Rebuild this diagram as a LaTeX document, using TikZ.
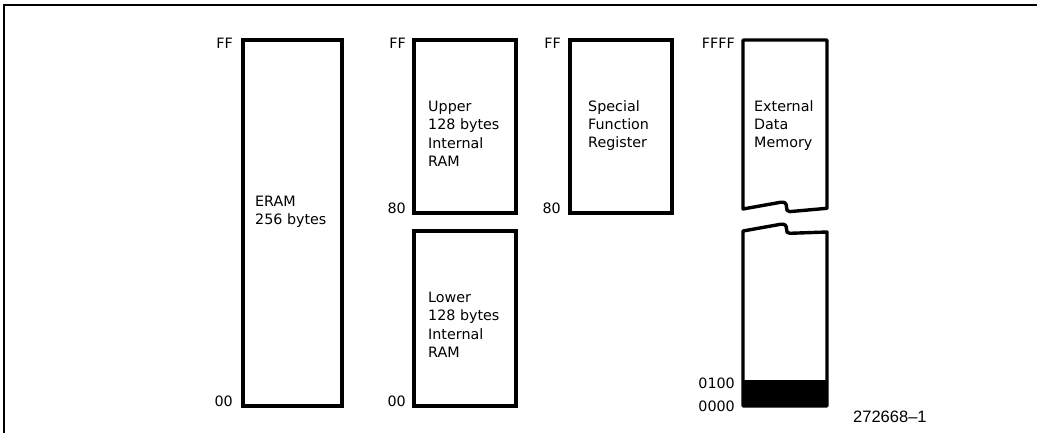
\documentclass[tikz,border=0pt]{standalone}
\usepackage{fontspec}
\newfontfamily\labfont{DejaVu Sans}
\newfontfamily\numfont{Liberation Sans}
\begin{document}
\begin{tikzpicture}[x=1pt,y=-1pt,
  memblock/.style={line width=3.4pt},
  frameline/.style={line width=1.6pt},
  addr/.style={anchor=base east,inner sep=0pt,font=\labfont\fontsize{14.3}{18.3}\selectfont},
  blocktext/.style={anchor=base west,inner sep=0pt,align=left,font=\labfont\fontsize{14.3}{18.3}\selectfont}]
\useasboundingbox (0,0) rectangle (1037,433);
% frame
\draw[frameline] (4,433) -- (4,5) -- (1037,5);
% ERAM
\draw[memblock] (243,40) rectangle (342,406);
\node[addr] (eff) at (233,49) {FF};
\node[addr] (e00) at (233,406) {00};
\node[blocktext] (eram) at (255,225) {ERAM\\256 bytes};
% Upper / lower internal RAM
\draw[memblock] (414,40) rectangle (516,213);
\draw[memblock] (414,231) rectangle (516,406);
\node[addr] (uff) at (406,49) {FF};
\node[addr] (u80) at (406,214) {80};
\node[addr] (u00) at (406,406) {00};
\node[blocktext] (upper) at (428,166.5) {Upper\\128 bytes\\Internal\\RAM};
\node[blocktext] (lower) at (428,357.5) {Lower\\128 bytes\\Internal\\RAM};
% SFR
\draw[memblock] (570,40) rectangle (672,213);
\node[addr] (sff) at (561,49) {FF};
\node[addr] (s80) at (561,214) {80};
\node[blocktext] (sfr) at (588,148) {Special\\Function\\Register};
% External data memory
\draw[memblock,line join=round] (743,40) -- (827,40) -- (827,208.3) -- (790,211.6)
  .. controls (787,211.8) and (786.5,210) .. (786.5,207)
  .. controls (786.5,203.5) and (785,201.8) .. (781,202.2) -- (743,209) -- cycle;
\draw[memblock,line join=round] (743,406) -- (827,406) -- (827,232) -- (790,233.3)
  .. controls (787,233.4) and (786.5,232) .. (786.5,229)
  .. controls (786.5,225.5) and (785,223.8) .. (781,224.2) -- (743,231) -- cycle;
\fill (743,380) rectangle (827,406);
\node[addr] (xffff) at (735,49) {FFFF};
\node[addr] (x0100) at (735,388) {0100};
\node[addr] (x0000) at (735,411) {0000};
\node[blocktext] (ext) at (754,148) {External\\Data\\Memory};
% figure number
\node[anchor=base west,inner sep=0pt,font=\numfont\fontsize{16.5}{18}\selectfont] (fig) at (853,422) {272668\textendash 1};
\end{tikzpicture}
\end{document}
